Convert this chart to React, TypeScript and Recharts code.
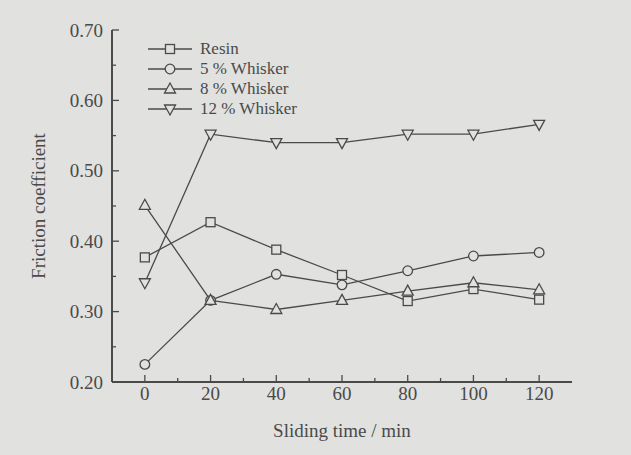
import { Legend, Line, LineChart, XAxis, YAxis } from "recharts";

const TIMES = [0, 20, 40, 60, 80, 100, 120];
const RESIN = [0.377, 0.427, 0.388, 0.352, 0.315, 0.332, 0.317];
const WHISKER_5 = [0.225, 0.316, 0.353, 0.338, 0.358, 0.379, 0.384];
const WHISKER_8 = [0.451, 0.316, 0.303, 0.316, 0.329, 0.341, 0.331];
const WHISKER_12 = [0.341, 0.552, 0.54, 0.54, 0.552, 0.552, 0.566];

const X_TICKS = [0, 10, 20, 30, 40, 50, 60, 70, 80, 90, 100, 110, 120];
const Y_TICKS = [0.2, 0.25, 0.3, 0.35, 0.4, 0.45, 0.5, 0.55, 0.6, 0.65, 0.7];

const SERIES = [
  { key: "resin", name: "Resin", shape: "square", values: RESIN },
  { key: "w5", name: "5 % Whisker", shape: "circle", values: WHISKER_5 },
  { key: "w8", name: "8 % Whisker", shape: "up", values: WHISKER_8 },
  { key: "w12", name: "12 % Whisker", shape: "down", values: WHISKER_12 }
];

const BG = "#e1e1df";
const INK = "#4a4a4a";
const FONT = "'Liberation Serif', 'Times New Roman', serif";
const TICK_MARGIN_X = 5;
const TICK_MARGIN_Y = 9;

const chartData = TIMES.map((t, i) => {
  const row: Record<string, number> = { t };
  for (const s of SERIES) {
    row[s.key] = s.values[i];
  }
  return row;
});

function Marker({ shape, cx, cy }: { shape: string; cx: number; cy: number }) {
  const common = { fill: BG, stroke: INK, strokeWidth: 1.3 };
  if (shape === "square") {
    return <rect x={cx - 4.5} y={cy - 4.5} width={9} height={9} {...common} />;
  }
  if (shape === "circle") {
    return <circle cx={cx} cy={cy} r={4.8} {...common} />;
  }
  if (shape === "up") {
    return <polygon points={`${cx},${cy - 6} ${cx + 5.5},${cy + 4} ${cx - 5.5},${cy + 4}`} {...common} />;
  }
  return <polygon points={`${cx},${cy + 6} ${cx + 5.5},${cy - 4} ${cx - 5.5},${cy - 4}`} {...common} />;
}

function XTick(props: any) {
  const { x, y, payload } = props;
  const v = payload.value as number;
  const major = v % 20 === 0;
  const axisY = y - TICK_MARGIN_X;
  return (
    <g>
      <line x1={x} x2={x} y1={axisY} y2={axisY - (major ? 7 : 4)} stroke={INK} strokeWidth={1.3} />
      {major && (
        <text x={x} y={y} dy="0.71em" textAnchor="middle" fill={INK} fontSize={19} fontFamily={FONT}>
          {v}
        </text>
      )}
    </g>
  );
}

function YTick(props: any) {
  const { x, y, payload } = props;
  const v = payload.value as number;
  const major = Math.round(v * 100) % 10 === 0;
  const axisX = x + TICK_MARGIN_Y;
  return (
    <g>
      <line x1={axisX} x2={axisX + (major ? 7 : 4)} y1={y} y2={y} stroke={INK} strokeWidth={1.3} />
      {major && (
        <text x={x} y={y} dy="0.35em" textAnchor="end" fill={INK} fontSize={19} fontFamily={FONT}>
          {v.toFixed(2)}
        </text>
      )}
    </g>
  );
}

function LegendBox() {
  return (
    <div style={{ fontFamily: FONT, fontSize: 17, color: INK }}>
      {SERIES.map((s) => (
        <div key={s.key} style={{ display: "flex", alignItems: "center", height: 20 }}>
          <svg width={44} height={20}>
            <line x1={0} x2={44} y1={10} y2={10} stroke={INK} strokeWidth={1.3} />
            <Marker shape={s.shape} cx={22} cy={10} />
          </svg>
          <span style={{ marginLeft: 8, lineHeight: "20px", whiteSpace: "nowrap" }}>{s.name}</span>
        </div>
      ))}
    </div>
  );
}

export default function App() {
  return (
    <div style={{ width: 631, height: 455, background: BG }}>
      <style>{"body{margin:0}"}</style>
      <LineChart width={631} height={455} data={chartData} margin={{ top: 30, right: 59, bottom: 0, left: 0 }}>
        <XAxis
          xAxisId="b"
          dataKey="t"
          type="number"
          domain={[-10, 130]}
          ticks={X_TICKS}
          interval={0}
          height={73}
          tickSize={0}
          tickMargin={TICK_MARGIN_X}
          tickLine={false}
          tick={<XTick />}
          axisLine={{ stroke: INK, strokeWidth: 2 }}
          label={{
            content: (p: any) => (
              <text
                x={p.viewBox.x + p.viewBox.width / 2}
                y={p.viewBox.y + 55}
                textAnchor="middle"
                fill={INK}
                fontSize={19}
                fontFamily={FONT}
              >
                Sliding time / min
              </text>
            )
          }}
        />
        <XAxis
          xAxisId="top"
          orientation="top"
          dataKey="t"
          type="number"
          domain={[-10, 130]}
          height={0}
          tick={false}
          tickLine={false}
          axisLine={{ stroke: INK, strokeWidth: 2 }}
        />
        <YAxis
          yAxisId="l"
          type="number"
          domain={[0.2, 0.7]}
          ticks={Y_TICKS}
          interval={0}
          width={112}
          tickSize={0}
          tickMargin={TICK_MARGIN_Y}
          tickLine={false}
          tick={<YTick />}
          axisLine={{ stroke: INK, strokeWidth: 2 }}
          label={{
            content: (p: any) => {
              const cx = p.viewBox.x + 38;
              const cy = p.viewBox.y + p.viewBox.height / 2;
              return (
                <text
                  x={cx}
                  y={cy}
                  transform={`rotate(-90, ${cx}, ${cy})`}
                  textAnchor="middle"
                  dominantBaseline="central"
                  fill={INK}
                  fontSize={19}
                  fontFamily={FONT}
                >
                  Friction coefficient
                </text>
              );
            }
          }}
        />
        <YAxis
          yAxisId="r"
          orientation="right"
          type="number"
          domain={[0.2, 0.7]}
          width={0}
          tick={false}
          tickLine={false}
          axisLine={{ stroke: INK, strokeWidth: 2 }}
        />
        <Legend
          layout="vertical"
          align="center"
          verticalAlign="middle"
          content={() => <LegendBox />}
          wrapperStyle={{ top: 39, left: 148, width: "auto", height: "auto" }}
        />
        {SERIES.map((s) => (
          <Line
            key={s.key}
            xAxisId="b"
            yAxisId="l"
            type="linear"
            dataKey={s.key}
            name={s.name}
            stroke={INK}
            strokeWidth={1.3}
            dot={(p: any) => <Marker key={`${s.key}-${p.index}`} shape={s.shape} cx={p.cx} cy={p.cy} />}
            activeDot={false}
            isAnimationActive={false}
          />
        ))}
      </LineChart>
    </div>
  );
}
